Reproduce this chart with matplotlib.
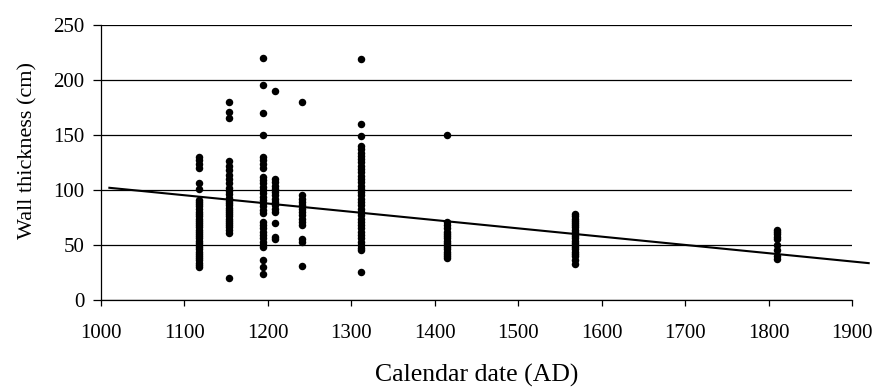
import matplotlib.pyplot as plt

plt.rcParams['font.family'] = ['Liberation Serif', 'DejaVu Serif']

# wall thickness (cm) per dated site (calendar year AD)
dates = [1117, 1153, 1194, 1208, 1241, 1312, 1415, 1568, 1810]
thick_1117 = [130, 127, 124, 120, 106, 101, 91, 89, 87, 85, 83, 80, 78, 76, 74, 72, 70, 68, 66, 64,
              62, 60, 58, 56, 54, 52, 50, 48, 46, 44, 42, 40, 38, 36, 34, 32, 30]
thick_1153 = [180, 171, 165, 126, 122, 118, 114, 110, 106, 102, 99, 96, 93, 90, 88, 86, 84, 82, 80,
              78, 76, 74, 72, 70, 68, 66, 64, 61, 20]
thick_1194 = [220, 195, 170, 150, 130, 127, 124, 120, 112, 109, 106, 103, 100, 97, 94, 91, 88, 85,
              82, 79, 71, 68, 65, 62, 59, 56, 53, 50, 48, 36, 30, 24]
thick_1208 = [190, 110, 107, 104, 101, 98, 95, 92, 89, 86, 83, 80, 70, 57, 55]
thick_1241 = [180, 95, 92, 89, 86, 83, 80, 77, 74, 71, 68, 55, 53, 31]
thick_1312 = [219, 160, 149, 140, 137, 134, 131, 128, 125, 122, 119, 116, 113, 110, 107, 104, 101,
              98, 95, 92, 89, 86, 83, 80, 77, 74, 71, 68, 65, 62, 59, 56, 53, 50, 47, 45, 25]
thick_1415 = [150, 71, 68, 65, 62, 60, 58, 56, 54, 52, 50, 48, 46, 44, 42, 40, 38]
thick_1568 = [78, 76, 74, 72, 70, 68, 66, 64, 62, 60, 58, 56, 54, 52, 50, 48, 46, 44, 42, 40, 36, 33]
thick_1810 = [64, 62, 60, 57, 55, 50, 45, 40, 37]
thickness = [thick_1117, thick_1153, thick_1194, thick_1208, thick_1241,
             thick_1312, thick_1415, thick_1568, thick_1810]

# linear trend line end points
trend_x = [1010, 1920]
trend_y = [102, 33.5]

fig = plt.figure(figsize=(8.77, 3.9), dpi=100)
ax = fig.add_axes([0.1152, 0.2308, 0.8563, 0.7051])

for d, vals in zip(dates, thickness):
    ax.plot([d] * len(vals), vals, 'o', color='black', markersize=5.4, markeredgewidth=0, zorder=3)

ax.plot(trend_x, trend_y, color='black', linewidth=1.5, clip_on=False, zorder=4)

ax.set_xlim(1000, 1900)
ax.set_ylim(0, 250)
ax.set_xticks(range(1000, 1901, 100))
ax.set_yticks(range(0, 251, 50))
ax.yaxis.grid(True, color='black', linewidth=0.9)
ax.set_axisbelow(True)
for s in ['top', 'right']:
    ax.spines[s].set_visible(False)
for s in ['left', 'bottom']:
    ax.spines[s].set_linewidth(0.9)
ax.tick_params(axis='x', direction='out', length=4.5, width=0.9, pad=13, labelsize=15)
ax.tick_params(axis='y', direction='out', length=6, width=0.9, pad=6, labelsize=15)

ax.set_xlabel('Calendar date (AD)', fontsize=18.5)
ax.set_ylabel('Wall thickness (cm)', fontsize=16)
ax.xaxis.set_label_coords(0.5, -0.232)
ax.yaxis.set_label_coords(-0.085, 0.545)

fig.savefig('out.png', dpi=100)
